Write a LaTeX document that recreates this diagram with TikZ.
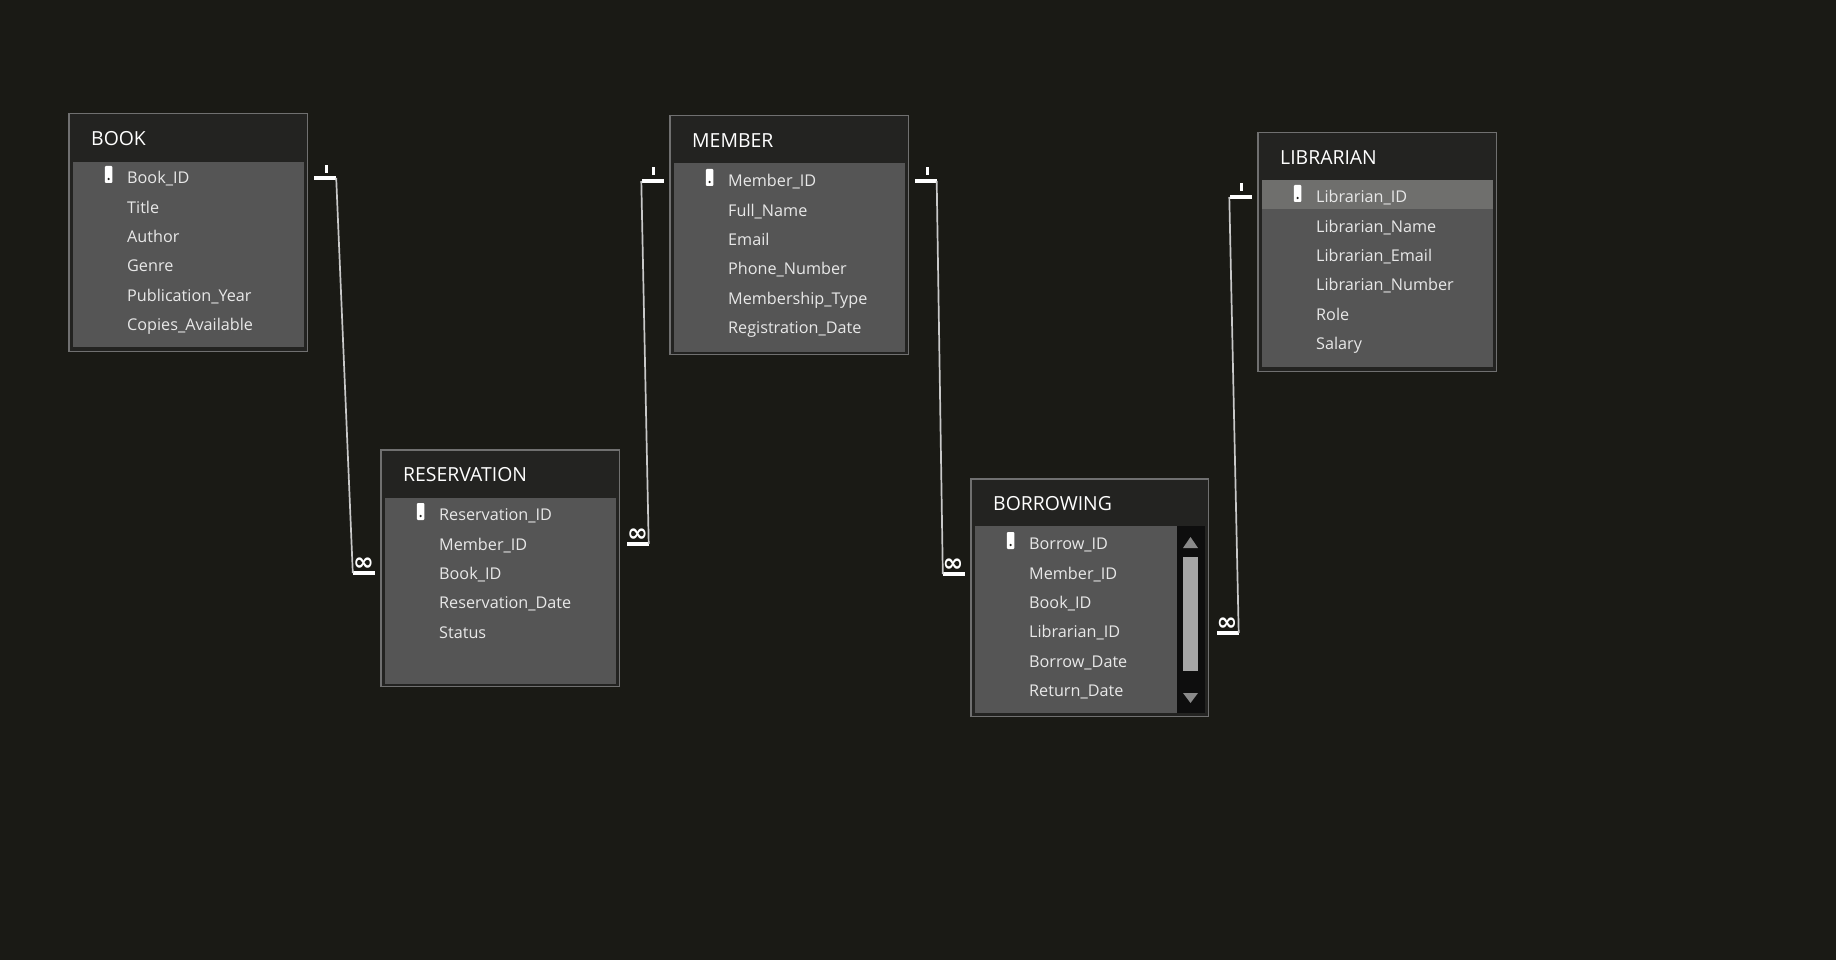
\documentclass[tikz,border=0pt]{standalone}
\usepackage{fontspec}
\setmainfont{Open Sans}
\newfontfamily\marksfont{DejaVu Sans}
\definecolor{bg}{HTML}{1A1A15}
\definecolor{head}{HTML}{232321}
\definecolor{body}{HTML}{555555}
\definecolor{frame}{HTML}{707070}
\definecolor{hilite}{HTML}{6F6F6D}
\definecolor{rowtxt}{HTML}{E8E8E8}
\definecolor{wire}{HTML}{C8C8C8}
\definecolor{track}{HTML}{0E0E0E}
\definecolor{thumb}{HTML}{A6A6A6}
\definecolor{arrowc}{HTML}{8A8A8A}
\tikzset{
  x=1pt,y=-1pt,
  framebox/.style={draw=frame,line width=1.5pt,fill=head,anchor=north west,inner sep=0pt},
  bodybox/.style={fill=body,draw=none,anchor=north west,inner sep=0pt},
  titletext/.style={anchor=base west,inner sep=0pt,text=white,font=\fontsize{19.4}{21}\selectfont},
  rowtext/.style={anchor=base west,inner sep=0pt,text=rowtxt,font=\fontsize{16.2}{18}\selectfont},
  keyicon/.style={fill=white,draw=none,rounded corners=1pt,minimum width=7.5pt,minimum height=17pt,inner sep=0pt},
  keydot/.style={fill=head,draw=none,circle,minimum size=2.5pt,inner sep=0pt},
  bar/.style={fill=white,draw=none,minimum width=22pt,minimum height=3.4pt,inner sep=0pt},
  onemark/.style={fill=white,draw=none,minimum width=3pt,minimum height=8pt,inner sep=0pt},
  infmark/.style={inner sep=0pt,text=white,font=\marksfont\bfseries\fontsize{25}{25}\selectfont},
  wireline/.style={draw=wire,line width=1.7pt},
  scrolltrack/.style={fill=track,draw=none,anchor=north west,inner sep=0pt},
  scrollthumb/.style={fill=thumb,draw=none,anchor=north west,inner sep=0pt},
}
% id, x1, y1, x2, y2, header-bottom, body-bottom, title, first row y
\newcommand{\entitybox}[9]{%
  \node[framebox,minimum width=#4pt-#2pt-1.5pt,minimum height=#5pt-#3pt-1.5pt] (#1) at (#2,#3) {};
  \node[bodybox,minimum width=#4pt-#2pt-9pt,minimum height=#7pt-#6pt] (#1body) at (#2+4.5,#6) {};
  \node[titletext] (#1title) at (#2+23,#3+32.5) {#8};
  \node[keyicon] (#1key) at (#2+40.5,#9-3.5) {};
  \node[keydot] (#1dot) at (#2+40.5,#9+1) {};
}
\newcommand{\entityrows}[4]{%
  \foreach \rowlabel [count=\rowi] in {#4} {
    \node[rowtext] (#1row\rowi) at (#2+59,#3+5.7+\rowi*29.4-29.4) {\rowlabel};
  }
}
\begin{document}
\begin{tikzpicture}
\useasboundingbox (0,0) rectangle (1836,960);
\fill[bg] (0,0) rectangle (1836,960);

% BOOK
\entitybox{book}{68}{113}{308}{352}{162}{347}{BOOK}{178}
\entityrows{book}{68}{178}{Book\_ID,Title,Author,Genre,Publication\_Year,Copies\_Available}

% RESERVATION
\entitybox{res}{380}{449}{620}{687}{498}{684}{RESERVATION}{515}
\entityrows{res}{380}{515}{Reservation\_ID,Member\_ID,Book\_ID,Reservation\_Date,Status}

% MEMBER
\entitybox{mem}{669}{115}{909}{355}{163}{352}{MEMBER}{181}
\entityrows{mem}{669}{181}{Member\_ID,Full\_Name,Email,Phone\_Number,Membership\_Type,Registration\_Date}

% BORROWING
\entitybox{bor}{970}{478}{1209}{717}{526}{713}{BORROWING}{544}
\entityrows{bor}{970}{544}{Borrow\_ID,Member\_ID,Book\_ID,Librarian\_ID,Borrow\_Date,Return\_Date}
\node[scrolltrack,minimum width=28pt,minimum height=187pt] (bortrack) at (1177,526) {};
\node[scrollthumb,minimum width=15pt,minimum height=114pt] (borthumb) at (1183,557) {};
\fill[arrowc] (1190.5,537) -- (1198,548) -- (1183,548) -- cycle;
\fill[arrowc] (1190.5,703) -- (1198,693) -- (1183,693) -- cycle;

% LIBRARIAN
\entitybox{lib}{1257}{132}{1497}{372}{180}{367}{LIBRARIAN}{197}
\fill[hilite] (1261.5,180) rectangle (1492.5,209);
\node[keyicon] (libkey2) at (1297.5,193.5) {};
\node[keydot] (libdot2) at (1297.5,198) {};
\entityrows{lib}{1257}{197}{Librarian\_ID,Librarian\_Name,Librarian\_Email,Librarian\_Number,Role,Salary}

% Cardinality marks
\node[bar] (b1) at (325,178) {};
\node[onemark] (o1) at (326,169) {};
\node[bar] (m1) at (364,573) {};
\node[infmark] (i1) at (363.5,564.5) {∞};

\node[bar] (m2) at (637.5,544) {};
\node[infmark] (i2) at (637.5,535.5) {∞};
\node[bar] (b2) at (652.5,181) {};
\node[onemark] (o2) at (653,171) {};

\node[bar] (b3) at (925.5,181) {};
\node[onemark] (o3) at (927,171) {};
\node[bar] (m3) at (954,574) {};
\node[infmark] (i3) at (953,565.5) {∞};

\node[bar] (m4) at (1227.5,633) {};
\node[infmark] (i4) at (1227,624) {∞};
\node[bar] (b4) at (1240.5,197) {};
\node[onemark] (o4) at (1241,187) {};

% Connectors
\draw[wireline] (b1.east) -- (m1.west);
\draw[wireline] (m2.east) -- (b2.west);
\draw[wireline] (b3.east) -- (m3.west);
\draw[wireline] (m4.east) -- (b4.west);
\end{tikzpicture}
\end{document}
